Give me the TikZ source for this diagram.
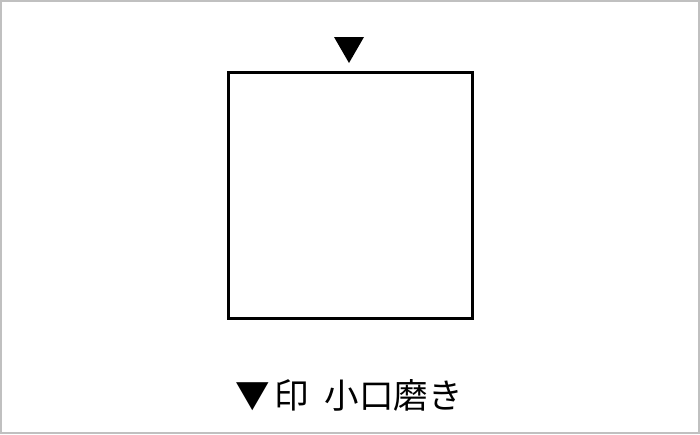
\documentclass[tikz,border=0pt]{standalone}
\usepackage{fontspec}
\newfontfamily\jpfont{Noto Sans CJK JP}
\definecolor{frame}{RGB}{192,192,192}
\begin{document}
\begin{tikzpicture}[x=1pt,y=-1pt,
  boxstyle/.style={draw=black,line width=3pt},
  markstyle/.style={fill=black,draw=none},
  labelstyle/.style={font=\jpfont\fontsize{34.5}{40}\selectfont,inner sep=0pt}]
\useasboundingbox (0,0) rectangle (700,434);
\draw[frame,line width=2pt] (1,1) rectangle (699,433);
\node[boxstyle,minimum width=244pt,minimum height=246pt,inner sep=0pt] (box) at (350,195) {};
\path[markstyle] (334,37) -- (364,37) -- (349,63) -- cycle;
\coordinate (mark) at (349,50);
\node[labelstyle] (label) at (349,395) {▼\hspace{0.15em}印\hspace{0.45em}小口磨き};
\end{tikzpicture}
\end{document}
